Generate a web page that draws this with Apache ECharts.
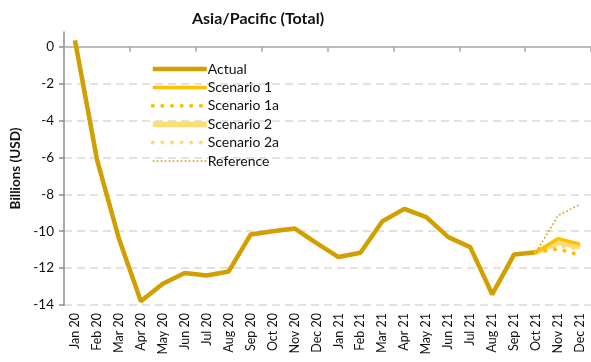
<!DOCTYPE html>
<html>
<head>
<meta charset="utf-8">
<script src="https://cdn.jsdelivr.net/npm/echarts@6/dist/echarts.min.js"></script>
<style>
  html, body { margin: 0; padding: 0; background: #fff; }
  #chart { width: 591px; height: 362px; }
</style>
</head>
<body>
<div id="chart"></div>
<script>
// Monthly balance, Asia/Pacific (total), billions of USD
const months = ['Jan 20', 'Feb 20', 'Mar 20', 'Apr 20', 'May 20', 'Jun 20', 'Jul 20', 'Aug 20',
  'Sep 20', 'Oct 20', 'Nov 20', 'Dec 20', 'Jan 21', 'Feb 21', 'Mar 21', 'Apr 21', 'May 21',
  'Jun 21', 'Jul 21', 'Aug 21', 'Sep 21', 'Oct 21', 'Nov 21', 'Dec 21'];

const actual = [0.35, -6.1, -10.4, -13.8, -12.85, -12.27, -12.4, -12.18, -10.18, -10.0, -9.85,
  -10.65, -11.4, -11.17, -9.46, -8.79, -9.24, -10.32, -10.86, -13.42, -11.26, -11.14, null, null];

// Projections start from the last actual month (Oct 21)
const pad = new Array(21).fill(null);
const scenario1  = pad.concat([-11.14, -10.4, -10.7]);
const scenario1a = pad.concat([-11.14, -10.95, -11.3]);
const scenario2  = pad.concat([-11.14, -10.6, -10.85]);
const scenario2a = pad.concat([-11.14, -10.75, -11.0]);
const reference  = pad.concat([-11.14, -9.15, -8.55]);

const yTicks = [-14, -12, -10, -8, -6, -4, -2, 0];

const FONT = 'Lato';
const GOLD = '#D1A000';
const AMBER = '#FFC000';
const LIGHT = '#FFDB72';

const styles = {
  'Actual':      { color: GOLD,  width: 4.5, type: 'solid', z: 3 },
  'Scenario 1':  { color: AMBER, width: 3.5, type: 'solid', z: 5 },
  'Scenario 1a': { color: AMBER, width: 4,   type: [0.1, 9.5], cap: 'round', z: 6 },
  'Scenario 2':  { color: LIGHT, width: 5.5, type: 'solid', z: 4 },
  'Scenario 2a': { color: LIGHT, width: 4,   type: [0.1, 9.5], cap: 'round', z: 4 },
  'Reference':   { color: GOLD,  width: 1.6, type: [1.6, 2.4], z: 7 }
};
const seriesData = {
  'Actual': actual, 'Scenario 1': scenario1, 'Scenario 1a': scenario1a,
  'Scenario 2': scenario2, 'Scenario 2a': scenario2a, 'Reference': reference
};
const names = Object.keys(styles);

function lineStyleOf(name) {
  const s = styles[name];
  return { color: s.color, width: s.width, type: s.type, cap: s.cap || 'butt' };
}

// legend keys show only the line sample, no marker
const hiddenMarker = { opacity: 0, color: 'transparent', borderColor: 'transparent', borderWidth: 0 };

const chart = echarts.init(document.getElementById('chart'), null, { renderer: 'canvas' });

chart.setOption({
  animation: false,
  backgroundColor: '#fff',
  title: {
    text: 'Asia/Pacific (Total)',
    left: 253,
    textAlign: 'center',
    top: 6,
    textStyle: { fontFamily: FONT, fontSize: 16, fontWeight: 'bold', color: '#111' }
  },
  legend: {
    orient: 'vertical',
    left: 145,
    top: 57,
    itemWidth: 54,
    itemHeight: 14,
    itemGap: 4.4,
    selectedMode: false,
    itemStyle: hiddenMarker,
    textStyle: { fontFamily: FONT, fontSize: 14, color: '#111', padding: [0, 0, 0, -4] },
    data: names.map(n => ({ name: n, lineStyle: lineStyleOf(n), itemStyle: hiddenMarker }))
  },
  grid: { left: 64, top: 32, width: 530, height: 273, containLabel: false },
  xAxis: [
    {
      type: 'category',
      data: months,
      boundaryGap: true,
      axisLine: { onZero: true, lineStyle: { color: '#A6A6A6', width: 1.5 } },
      axisTick: { show: true, length: 5, lineStyle: { color: '#A6A6A6', width: 1.5 } },
      axisLabel: { show: false },
      splitLine: { show: false }
    },
    {
      type: 'category',
      data: months,
      position: 'bottom',
      boundaryGap: true,
      axisLine: { show: false, onZero: false },
      axisTick: { show: false },
      axisLabel: {
        rotate: 90, interval: 0, margin: 8,
        fontFamily: FONT, fontSize: 12.5, color: '#111'
      },
      splitLine: { show: false }
    }
  ],
  yAxis: {
    type: 'value',
    min: -14,
    max: 0.8,
    interval: 2,
    name: 'Billions (USD)',
    nameLocation: 'middle',
    nameGap: 33,
    nameTextStyle: { fontFamily: FONT, fontSize: 13.5, fontWeight: 'bold', color: '#111' },
    axisLine: { show: true, lineStyle: { color: '#8C8C8C', width: 1.5 } },
    axisTick: { show: true, length: 5, customValues: yTicks, lineStyle: { color: '#8C8C8C', width: 1.5 } },
    axisLabel: { customValues: yTicks, margin: 10, fontFamily: FONT, fontSize: 13.5, color: '#111' },
    splitLine: {
      show: true,
      showMaxLine: false,
      lineStyle: { color: '#D9D9D9', width: 1.5, type: [8, 5] }
    }
  },
  series: names.map(n => ({
    name: n,
    type: 'line',
    data: seriesData[n],
    clip: false,
    z: styles[n].z,
    symbol: 'none',
    color: styles[n].color,
    itemStyle: { opacity: 0 },
    lineStyle: lineStyleOf(n)
  }))
});
</script>
</body>
</html>
